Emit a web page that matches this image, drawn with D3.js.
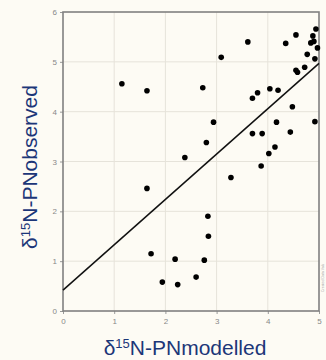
<!DOCTYPE html>
<html><head><meta charset="utf-8">
<script src="https://cdn.jsdelivr.net/npm/d3@7"></script>
<style>body{margin:0;background:#fdfbf4;}svg{display:block;}</style>
</head><body>
<svg id="c" width="326" height="360"></svg>
<script>
const xTicks = [0,1,2,3,4,5];
const yTicks = [0,1,2,3,4,5,6];
const modelled = [1.15,1.64,2.73,3.09,3.61,3.70,3.80,4.04,4.20,4.35,4.55,4.48,4.55,4.58,4.72,4.77,4.84,4.88,4.90,4.94,4.97,4.92,
  2.94,2.80,2.38,1.64,3.28,3.70,3.89,3.87,4.02,4.14,4.17,4.44,4.92,2.83,
  2.84,1.72,2.19,2.76,1.94,2.24,2.60];
const observed = [4.56,4.42,4.48,5.09,5.40,4.27,4.38,4.46,4.43,5.37,5.54,4.10,4.83,4.79,4.89,5.15,5.38,5.52,5.41,5.66,5.28,5.06,
  3.79,3.38,3.08,2.46,2.68,3.56,3.56,2.91,3.16,3.29,3.79,3.59,3.80,1.90,
  1.50,1.15,1.04,1.02,0.58,0.53,0.68];
const fitX = [0,5];
const fitY = [0.42,4.97];

const svg = d3.select('#c');
const x = d3.scaleLinear().domain([0,5]).range([63,319]);
const y = d3.scaleLinear().domain([0,6]).range([311,12]);

svg.append('rect').attr('width',326).attr('height',360).attr('fill','#fdfbf4');

// grid
svg.append('g').selectAll('line').data(xTicks.slice(1,-1)).join('line')
  .attr('x1',d=>x(d)).attr('x2',d=>x(d)).attr('y1',y(6)).attr('y2',y(0))
  .attr('stroke','#e6e3da').attr('stroke-width',1);
svg.append('g').selectAll('line').data(yTicks.slice(1,-1)).join('line')
  .attr('x1',x(0)).attr('x2',x(5)).attr('y1',d=>y(d)).attr('y2',d=>y(d))
  .attr('stroke','#e6e3da').attr('stroke-width',1);

// axes
const ax = svg.append('g').attr('transform',`translate(0,${y(0)})`)
  .call(d3.axisBottom(x).tickValues(xTicks).tickSize(3).tickPadding(4).tickFormat(d3.format('d')));
const ay = svg.append('g').attr('transform',`translate(${x(0)},0)`)
  .call(d3.axisLeft(y).tickValues(yTicks).tickSize(3).tickPadding(3).tickFormat(d3.format('d')));
[ax,ay].forEach(a=>{
  a.select('.domain').remove();
  a.selectAll('line').attr('stroke','#999');
  a.selectAll('text').attr('fill','#888').attr('font-size',8).attr('font-family','Arial, Liberation Sans, sans-serif');
});

// frame
svg.append('rect').attr('x',x(0)).attr('y',y(6)).attr('width',x(5)-x(0)).attr('height',y(0)-y(6))
  .attr('fill','none').attr('stroke','#808080').attr('stroke-width',1.6);

// fit line
svg.append('line').attr('x1',x(fitX[0])).attr('y1',y(fitY[0])).attr('x2',x(fitX[1])).attr('y2',y(fitY[1]))
  .attr('stroke','#111').attr('stroke-width',1.5);

// points
svg.append('g').selectAll('circle').data(modelled.map((m,i)=>[m,observed[i]])).join('circle')
  .attr('cx',d=>x(d[0])).attr('cy',d=>y(d[1])).attr('r',2.8).attr('fill','#000');

// labels
const font = 'Arial, Liberation Sans, sans-serif';
function lab(g){
  g.append('tspan').text('δ');
  g.append('tspan').text('15').attr('font-size',13).attr('dy',-7);
  g.append('tspan').text('N-PN').attr('dy',7);
}
const xl = svg.append('text').attr('x',185).attr('y',355).attr('text-anchor','middle')
  .attr('font-family',font).attr('font-size',21).attr('fill','#1c3678');
lab(xl); xl.append('tspan').text('modelled');
const yl = svg.append('text').attr('transform','translate(37,167) rotate(-90)').attr('text-anchor','middle')
  .attr('font-family',font).attr('font-size',21).attr('fill','#1c3678');
lab(yl); yl.append('tspan').text('observed');

svg.append('text').attr('transform','translate(324,292) rotate(-90)').attr('font-size',3.5)
  .attr('font-family',font).attr('fill','#aaa').text('Created Data Vals');
</script>
</body></html>
